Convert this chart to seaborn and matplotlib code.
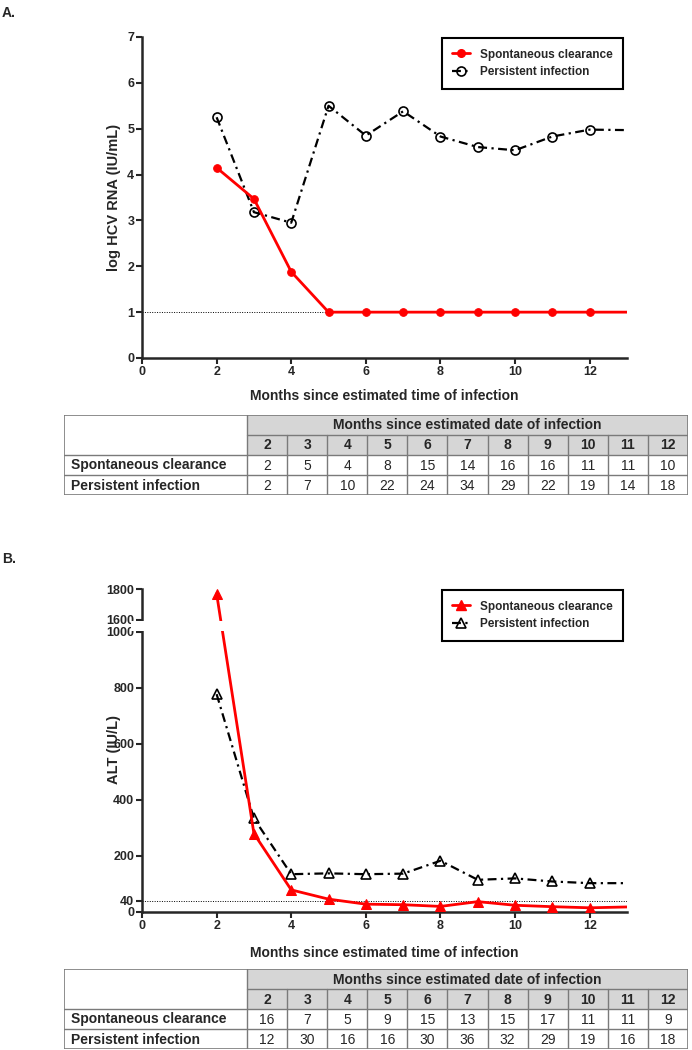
import numpy as np
import pandas as pd
import matplotlib
matplotlib.use("Agg")
import matplotlib.pyplot as plt
from matplotlib.patches import Rectangle
from matplotlib.lines import Line2D
import seaborn as sns

# months with a measured value (13 = line carried to the axis end, no symbol)
months = [2, 3, 4, 5, 6, 7, 8, 9, 10, 11, 12, 13]

# panel A: log HCV RNA (IU/mL)
rna_clear = [4.15, 3.47, 1.88, 1.0, 1.0, 1.0, 1.0, 1.0, 1.0, 1.0, 1.0, 1.0]
rna_persist = [5.25, 3.18, 2.95, 5.5, 4.85, 5.38, 4.83, 4.6, 4.53, 4.83, 4.98, 4.97]

# panel B: ALT (IU/L)
alt_clear = [1770, 280, 79, 46, 28, 26, 20, 37, 24, 19, 15, 18]
alt_persist = [778, 334, 135, 138, 135, 137, 183, 115, 120, 109, 103, 103]

# tables: number of subjects per month
table_months = ["2", "3", "4", "5", "6", "7", "8", "9", "10", "11", "12"]
n_rna_clear = [2, 5, 4, 8, 15, 14, 16, 16, 11, 11, 10]
n_rna_persist = [2, 7, 10, 22, 24, 34, 29, 22, 19, 14, 18]
n_alt_clear = [16, 7, 5, 9, 15, 13, 15, 17, 11, 11, 9]
n_alt_persist = [12, 30, 16, 16, 30, 36, 32, 29, 19, 16, 18]

row_names = ["Spontaneous clearance", "Persistent infection"]
table_title = "Months since estimated date of infection"
xlabel = "Months since estimated time of infection"

sns.set_style("ticks")
plt.rcParams["font.family"] = ["Liberation Sans", "DejaVu Sans"]

W, H = 692, 1050
fig = plt.figure(figsize=(W / 100, H / 100), dpi=100)


def fpos(x0, y0, x1, y1):
    # pixel box -> figure fraction [left, bottom, width, height]
    return [x0 / W, 1 - y1 / H, (x1 - x0) / W, (y1 - y0) / H]


def style_axis(ax):
    for s in ["top", "right"]:
        ax.spines[s].set_visible(False)
    ax.spines["left"].set_linewidth(1.8)
    ax.spines["bottom"].set_linewidth(1.8)
    ax.tick_params(direction="out", length=4, width=1.5, labelsize=9, pad=1.5)
    for lab in ax.get_xticklabels() + ax.get_yticklabels():
        lab.set_fontweight("bold")


def draw_series(ax, clear, persist, m_clear, m_persist, ms):
    df = pd.DataFrame({"month": months, "clear": clear, "persist": persist})
    mk = slice(0, 11)
    sns.lineplot(data=df, x="month", y="persist", ax=ax, color="black",
                 lw=1.6, linestyle=(0, (4, 2, 1, 2)), marker=m_persist,
                 markersize=ms + 1, markerfacecolor="none",
                 markeredgecolor="black", markeredgewidth=1.2,
                 markevery=mk, zorder=3)
    sns.lineplot(data=df, x="month", y="clear", ax=ax, color="red",
                 lw=2, marker=m_clear, markersize=ms,
                 markeredgecolor="red", markevery=mk, zorder=4)
    ax.set_xlabel("")
    ax.set_ylabel("")


def add_legend(top_px, m_clear, m_persist, ms):
    handles = [
        Line2D([], [], color="red", lw=2, marker=m_clear, markersize=ms,
               markeredgecolor="red"),
        Line2D([], [], color="black", lw=1.6, linestyle=(0, (4, 2, 1, 2)),
               marker=m_persist, markersize=ms + 1, markerfacecolor="none",
               markeredgecolor="black", markeredgewidth=1.2),
    ]
    leg = fig.legend(handles, row_names, loc="upper right",
                     bbox_to_anchor=(623 / W, 1 - top_px / H),
                     frameon=True, fancybox=False, edgecolor="black",
                     framealpha=1, borderaxespad=0, borderpad=0.9,
                     handlelength=1.5, handletextpad=0.8, labelspacing=0.45,
                     prop={"size": 8.5, "weight": "bold"})
    leg.get_frame().set_linewidth(1.5)


def draw_table(top_px, clear_n, persist_n):
    tax = fig.add_axes(fpos(64, top_px, 688, top_px + 80))
    tax.set_xlim(0, 624)
    tax.set_ylim(80, 0)
    tax.axis("off")
    c0 = 183
    cw = (624 - c0) / len(table_months)
    rh = 20
    grey = "#d6d6d6"
    edge = "#7a7a7a"
    fs = 10
    tax.add_patch(Rectangle((c0, 0), 624 - c0, 2 * rh, facecolor=grey,
                            edgecolor="none"))
    tax.add_patch(Rectangle((0, 0), 624, 80, fill=False, edgecolor=edge, lw=1.2))
    tax.plot([c0, 624], [rh, rh], color=edge, lw=1)
    for r in [2, 3]:
        tax.plot([0, 624], [r * rh, r * rh], color=edge, lw=1)
    tax.plot([c0, c0], [0, 80], color=edge, lw=1)
    for i in range(1, len(table_months)):
        x = c0 + i * cw
        tax.plot([x, x], [rh, 80], color=edge, lw=1)
    tax.text(c0 + (624 - c0) / 2, rh / 2 + 0.5, table_title, ha="center",
             va="center", fontsize=fs, fontweight="bold")
    for i, m in enumerate(table_months):
        xc = c0 + (i + 0.5) * cw
        tax.text(xc, 1.5 * rh + 0.5, m, ha="center", va="center",
                 fontsize=fs, fontweight="bold")
        tax.text(xc, 2.5 * rh + 0.5, str(clear_n[i]), ha="center",
                 va="center", fontsize=fs)
        tax.text(xc, 3.5 * rh + 0.5, str(persist_n[i]), ha="center",
                 va="center", fontsize=fs)
    for j, name in enumerate(row_names):
        tax.text(7, (2.5 + j) * rh + 0.5, name, ha="left", va="center",
                 fontsize=fs, fontweight="bold")


# ---------------- panel A ----------------
axA = fig.add_axes(fpos(142, 37, 627, 358))
axA.axhline(1, color="black", lw=0.7, linestyle=(0, (1, 1.5)), zorder=1)
draw_series(axA, rna_clear, rna_persist, "o", "o", 5.5)
axA.set_xlim(0, 13)
axA.set_ylim(0, 7)
axA.set_xticks(range(0, 13, 2))
axA.set_yticks(range(0, 8))
style_axis(axA)
axA.set_ylabel("log HCV RNA (IU/mL)", fontsize=10.5, fontweight="bold")
axA.yaxis.set_label_coords(-0.043, 0.5)
axA.set_xlabel(xlabel, fontsize=10, fontweight="bold")
axA.xaxis.set_label_coords(0.5, -31 / 321)
add_legend(38, "o", "o", 5.5)
fig.text(2 / W, 1 - 6 / H, "A.", ha="left", va="top", fontsize=10,
         fontweight="bold")
draw_table(415, n_rna_clear, n_rna_persist)

# ---------------- panel B (broken y axis: 0-1000 and 1600-1800) ----------------
# piecewise linear y scale in pixel units: 0-1000 -> 280 px, gap 12 px, 1600-1800 -> 31 px
LO, GAP, HI = 280.0, 12.0, 31.0


def brk_fwd(y):
    y = np.asarray(y, dtype=float)
    return np.where(y <= 1000, y * LO / 1000,
                    np.where(y <= 1600, LO + (y - 1000) * GAP / 600,
                             LO + GAP + (y - 1600) * HI / 200))


def brk_inv(p):
    p = np.asarray(p, dtype=float)
    return np.where(p <= LO, p * 1000 / LO,
                    np.where(p <= LO + GAP, 1000 + (p - LO) * 600 / GAP,
                             1600 + (p - LO - GAP) * 200 / HI))


axB = fig.add_axes(fpos(142, 589, 627, 912))
axB.set_yscale("function", functions=(brk_fwd, brk_inv))
axB.axhline(40, color="black", lw=0.7, linestyle=(0, (1, 1.5)), zorder=1)
draw_series(axB, alt_clear, alt_persist, "^", "^", 6.5)
axB.set_xlim(0, 13)
axB.set_ylim(0, 1800)
axB.set_yticks([0, 40, 200, 400, 600, 800, 1000, 1600, 1800])
axB.set_xticks(range(0, 13, 2))
style_axis(axB)
# blank out the break between 1000 and 1600 (spine and lines)
axB.add_patch(Rectangle((-0.3, 1060), 13.6, 480, facecolor="white",
                        edgecolor="none", zorder=10, clip_on=False))
axB.set_ylabel("ALT (IU/L)", fontsize=10.5, fontweight="bold")
axB.yaxis.set_label_coords(-0.043, (912 - 750) / 323)
axB.set_xlabel(xlabel, fontsize=10, fontweight="bold")
axB.xaxis.set_label_coords(0.5, -34 / 323)
add_legend(590, "^", "^", 6.5)
fig.text(2 / W, 1 - 552 / H, "B.", ha="left", va="top", fontsize=10,
         fontweight="bold")
draw_table(969, n_alt_clear, n_alt_persist)

fig.savefig("out.png", dpi=100, facecolor="white")
